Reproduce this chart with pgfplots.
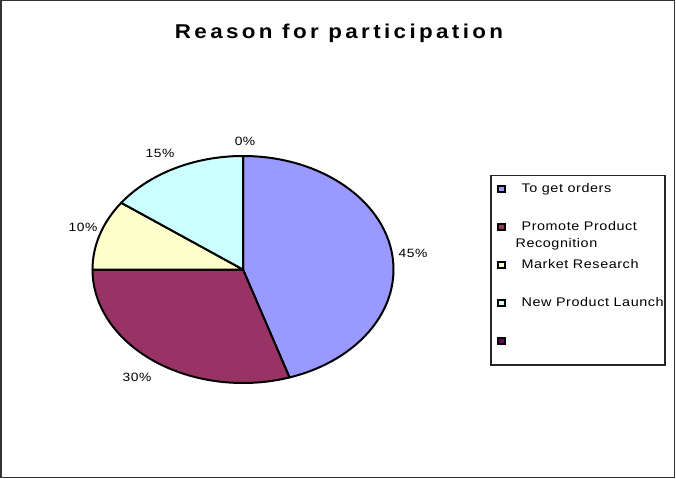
\documentclass[border=0pt]{standalone}
\usepackage{pgfplots}
\pgfplotsset{compat=1.18}
\usepackage{pgfplotstable}
\usepackage{graphicx}
\usepackage{fontspec}
\setmainfont{Liberation Sans}
\newfontfamily\labfont[LetterSpace=4]{Liberation Sans}
\newfontfamily\titfont[LetterSpace=15]{Liberation Sans}
\newcommand{\lab}[1]{\scalebox{1.15}[1]{#1}}
\definecolor{slice0}{HTML}{9999FF}
\definecolor{slice1}{HTML}{993366}
\definecolor{slice2}{HTML}{FFFFCC}
\definecolor{slice3}{HTML}{CCFFFF}
\definecolor{slice4}{HTML}{660066}
\definecolor{framec}{HTML}{333333}
\pgfplotstableread[col sep=comma]{
label,value
To get orders,45
Promote Product Recognition,30
Market Research,10
New Product Launch,15
Blank,0
}\piedata
\begin{document}
\begin{tikzpicture}
\begin{axis}[
  scale only axis, width=676bp, height=479bp,
  xmin=0, xmax=676, ymin=0, ymax=479, y dir=reverse,
  hide axis, clip=false,
  legend image code/.code={\draw[#1,draw=black,line width=1.4bp] (0bp,-2.5bp) rectangle (7bp,3.5bp);},
  legend style={at={(axis cs:497,184)}, anchor=north west, draw=none, fill=none,
    inner sep=0pt, row sep=27.5bp, column sep=0bp,
    font=\fontsize{12.5bp}{14bp}\labfont,
    nodes={inner sep=0pt, text height=8.5bp, text depth=2bp}},
  legend cell align=left,
]
\fill[white] (axis cs:0,0) rectangle (axis cs:676,479);
\draw[framec, line width=1.5bp] (axis cs:0.75,0.75) rectangle (axis cs:674.5,477.5);
\def\cum{0}
\pgfplotsforeachungrouped \i in {0,...,4}{%
  \pgfplotstablegetelem{\i}{value}\of\piedata
  \let\v=\pgfplotsretval
  \pgfmathsetmacro\a{90-3.6*\cum}%
  \pgfmathsetmacro\b{\a-3.6*\v}%
  \edef\temp{\noexpand\filldraw[fill=slice\i,draw=black,line width=2bp,line join=round] (axis cs:243,269.5) -- ++(\a:150.5bp and 113.5bp) arc[start angle=\a,end angle=\b,x radius=150.5bp,y radius=113.5bp] -- cycle;}%
  \temp
  \pgfmathsetmacro\cum{\cum+\v}%
}
\node[font=\fontsize{20bp}{22bp}\titfont\bfseries, anchor=base] at (axis cs:339,38.5) {\scalebox{1.12}[1]{Reason for participation}};
\begin{scope}[every node/.style={font=\fontsize{12bp}{14bp}\labfont, anchor=base}]
\node at (axis cs:245,145) {\lab{0\%}};
\node at (axis cs:160,157.5) {\lab{15\%}};
\node at (axis cs:83,231) {\lab{10\%}};
\node at (axis cs:413,257.5) {\lab{45\%}};
\node at (axis cs:137,381) {\lab{30\%}};
\end{scope}
\draw[black!85, line width=1.4bp] (axis cs:491,175.7) rectangle (axis cs:665,365);
\addlegendimage{fill=slice0}
\addlegendentry{\hspace*{16bp}\lab{To get orders}}
\addlegendimage{fill=slice1}
\addlegendentry{\hspace*{16bp}\makebox[0pt][l]{\raisebox{-17bp}[0pt][0pt]{\hspace*{-6bp}\lab{Recognition}}}\lab{Promote Product}}
\addlegendimage{fill=slice2}
\addlegendentry{\hspace*{16bp}\lab{Market Research}}
\addlegendimage{fill=slice3}
\addlegendentry{\hspace*{16bp}\lab{New Product Launch}}
\addlegendimage{fill=slice4}
\addlegendentry{}
\end{axis}
\end{tikzpicture}
\end{document}
